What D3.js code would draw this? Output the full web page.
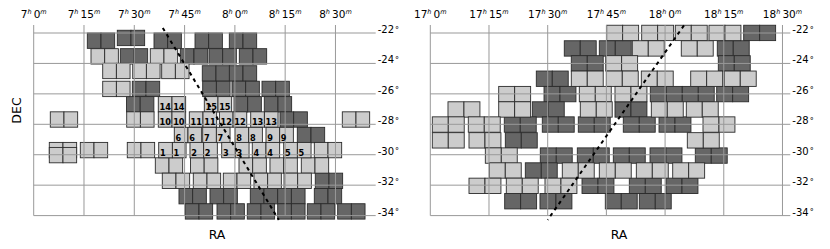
<!DOCTYPE html>
<html>
<head>
<meta charset="utf-8">
<script src="https://d3js.org/d3.v7.min.js"></script>
<style>
html,body{margin:0;padding:0;background:#fff;}
svg{display:block;}
text{font-family:"DejaVu Sans",sans-serif;fill:#000;}
</style>
</head>
<body>
<svg id="chart" width="830" height="249"></svg>
<script>
// RA in minutes past the panel's first hour, Dec in degrees (top edge of a field)
const raTicks = [0, 15, 30, 45, 60, 75, 90];
const leftRaLabels = [["7","0"],["7","15"],["7","30"],["7","45"],["8","0"],["8","15"],["8","30"]];
const rightRaLabels = [["17","0"],["17","15"],["17","30"],["17","45"],["18","0"],["18","15"],["18","30"]];
const decTicks = [-22, -24, -26, -28, -30, -32, -34];

const leftDark = [
 [15.99,-22],[24.93,-21.82],[35.88,-22],[48.11,-22],[58.34,-22],
 [25.83,-23.03],[43.72,-23.03],[52.28,-23.03],[61.32,-23.03],
 [50.28,-24.15],[58.34,-24.15],
 [29.41,-25.17],[50.4,-25.17],[59.14,-25.17],[68.09,-25.17],
 [27.68,-26.18],[59.74,-26.18],[68.77,-26.18],
 [73.46,-27.18],[78.62,-28.2],[83.98,-31.21],
 [43.33,-32.22],[52.58,-32.22],[64.6,-32.22],[72.77,-32.22],[83.69,-32.22],
 [45.21,-33.22],[54.67,-33.22],[63.7,-33.22],[72.77,-33.22],[81.6,-33.22],[90.66,-33.22]
];
const leftLight = [
 [17.09,-23.03],[34.77,-23.03],
 [20.58,-23.99],[29.53,-23.99],[38.17,-23.99],
 [20.58,-25.17],
 [4.95,-27.18],[27.74,-27.18],[92.04,-27.18],
 [4.65,-29.19],[4.65,-29.52],[13.9,-29.19],[27.91,-29.19],[83.69,-29.19],
 [36.27,-30.2],[46.76,-30.2],[61.23,-30.2],[70.47,-30.2],[79.81,-30.2],
 [38.35,-31.21],[47.6,-31.21],[56.55,-31.21],[65.7,-31.21],[74.65,-31.21]
];
const leftNumbered = [
 [37.16,-26.18,14],[50.88,-26.18,15],
 [37.16,-27.18,10],[46.41,-27.18,11],[55.38,-27.18,12],[64.72,-27.18,13],
 [41.93,-28.2,6],[50.4,-28.2,7],[60.04,-28.2,8],[69.28,-28.2,9],
 [37.28,-29.19,1],[46.61,-29.19,2],[56.07,-29.19,3],[65.19,-29.19,4],[74.56,-29.19,5]
];
const rightDark = [
 [80.09,-21.49],
 [34.24,-22.51],[43.19,-22.51],[73.34,-22.51],
 [36.03,-23.49],[73.6,-23.49],
 [27.09,-24.5],
 [29.06,-25.51],[56.22,-25.51],[64.4,-25.51],[73.19,-25.51],
 [26.07,-26.52],[47.2,-26.52],
 [18.91,-27.51],[28.62,-27.51],[37.82,-27.51],[49.32,-27.51],[58.45,-27.51],
 [19.17,-28.55],
 [28.11,-29.55],[37.57,-29.55],[46.77,-29.55],[56.15,-29.55],[67.72,-29.55],
 [24.28,-30.53],
 [38.77,-31.54],[50.86,-31.54],[60.24,-31.54],
 [19.01,-32.55],[28.03,-32.55],[44.72,-32.55],[53.41,-32.55]
];
const rightLight = [
 [45.08,-21.49],[54.02,-21.49],[62.61,-21.49],[71.22,-21.49],
 [51.62,-22.51],[64.14,-22.51],
 [44.82,-23.49],
 [36.03,-24.5],[44.98,-24.5],[53.92,-24.5],[66.55,-24.5],[75.13,-24.5],
 [17.48,-25.51],[38.08,-25.51],[47.2,-25.51],
 [4.52,-26.52],[17.48,-26.52],[38.33,-26.52],[56.48,-26.52],[65.42,-26.52],
 [0.51,-27.51],[9.71,-27.51],[69.69,-27.51],
 [0.51,-28.55],[9.89,-28.55],[65.68,-28.55],
 [14.06,-29.55],
 [15.08,-30.53],[33.73,-30.53],[43.19,-30.53],[52.65,-30.53],[61.95,-30.53],
 [9.89,-31.54],[19.42,-31.54],[29.31,-31.54]
];
const leftStrip = [[38.5,-21.67],[73.1,-34.28]];
const rightStrip = [[64.83,-21.5],[30.0,-34.28]];

const fieldRa = 4.08, fieldDec = 1.01;
const colDark = "#666", colLight = "#ccc", colEdge = "#2b2b2b", colGrid = "#999";

const svg = d3.select("#chart");
const yPix = [33, 215.6];
const yTop = 25;

function panel(cfg) {
  const x = d3.scaleLinear().domain(cfg.raDomain).range(cfg.xRange);
  const y = d3.scaleLinear().domain([-22, -34]).range(yPix);
  const g = svg.append("g");

  const fields = [
    ...cfg.dark.map(d => ({ra:d[0], dec:d[1], fill:colDark})),
    ...cfg.light.map(d => ({ra:d[0], dec:d[1], fill:colLight})),
    ...cfg.numbered.map(d => ({ra:d[0], dec:d[1], fill:colLight, n:d[2]}))
  ];
  const squares = fields.flatMap(f => [0,1].map(k => ({...f, ra:f.ra + k*fieldRa})));
  g.append("g").selectAll("rect").data(squares).join("rect")
    .attr("x", d => x(d.ra))
    .attr("y", d => y(d.dec))
    .attr("width", d => x(d.ra + fieldRa) - x(d.ra))
    .attr("height", d => y(d.dec - fieldDec) - y(d.dec))
    .attr("fill", d => d.fill)
    .attr("stroke", colEdge)
    .attr("stroke-width", 0.9);

  // vertical grid + RA labels
  const xAxis = d3.axisTop(x).tickValues(raTicks).tickSize(-(yPix[1]-yTop)).tickPadding(0).offset(0).tickFormat("");
  const gx = g.append("g").attr("transform", `translate(0,${yTop})`).call(xAxis);
  gx.select(".domain").remove();
  gx.selectAll("line").attr("stroke", colGrid).attr("stroke-width", 1);
  gx.selectAll(".tick").each(function(d, i) {
    const t = d3.select(this).select("text")
      .attr("y", 17.5 - yTop).attr("dy", 0).attr("font-size", 10.5)
      .attr("text-anchor", "middle").text(null).attr("fill", "#000");
    const lab = cfg.raLabels[i];
    t.append("tspan").text(lab[0]);
    t.append("tspan").text("h").attr("font-size", 6.5).attr("font-style", "italic").attr("dy", -3.5);
    t.append("tspan").text("\u2009" + lab[1]).attr("dy", 3.5);
    t.append("tspan").text("m").attr("font-size", 6.5).attr("font-style", "italic").attr("dy", -3.5);
  });

  // horizontal grid + Dec labels
  const yAxis = d3.axisRight(y).tickValues(decTicks).tickSize(-(cfg.xRange[1]-cfg.xRange[0])).tickPadding(2).offset(0).tickFormat("");
  const gy = g.append("g").attr("transform", `translate(${cfg.xRange[1]},0)`).call(yAxis);
  gy.select(".domain").remove();
  gy.selectAll("line").attr("stroke", colGrid).attr("stroke-width", 1);
  gy.selectAll(".tick").each(function(d) {
    const t = d3.select(this).select("text")
      .attr("x", 2).attr("dy", 0).attr("y", 0).attr("font-size", 10)
      .attr("text-anchor", "start").text(null).attr("fill", "#000");
    t.append("tspan").text(d);
    t.append("tspan").text("\u00b0").attr("font-size", 8).attr("dy", -0.5).attr("dx", 1);
  });

  // field numbers
  const nums = fields.filter(f => f.n != null).flatMap(f => [0,1].map(k => ({...f, ra:f.ra + k*fieldRa})));
  g.append("g").selectAll("text").data(nums).join("text")
    .attr("x", d => x(d.ra) + 1.2)
    .attr("y", d => y(d.dec - fieldDec) - 1.7)
    .attr("font-size", 8.2).attr("font-weight", "bold").attr("fill", "#000")
    .text(d => d.n);

  // Galactic plane strip
  g.append("path")
    .attr("d", d3.line().x(d => x(d[0])).y(d => y(d[1]))(cfg.strip))
    .attr("fill", "none").attr("stroke", "#000")
    .attr("stroke-width", 2).attr("stroke-dasharray", "3.6,3.8");

  // RA title
  g.append("text").attr("x", cfg.raTitleX).attr("y", 239)
    .attr("text-anchor", "middle").attr("font-size", 12.5).text("RA");
}

panel({
  raDomain:[0,102], xRange:[33.7, 375.7], raLabels:leftRaLabels,
  dark:leftDark, light:leftLight, numbered:leftNumbered, strip:leftStrip, raTitleX:217
});
panel({
  raDomain:[0,92], xRange:[430.3, 790.3], raLabels:rightRaLabels,
  dark:rightDark, light:rightLight, numbered:[], strip:rightStrip, raTitleX:619
});

svg.append("text")
  .attr("transform", "translate(20.5,110.5) rotate(-90)")
  .attr("text-anchor", "middle").attr("font-size", 12.5).text("DEC");
</script>
</body>
</html>
